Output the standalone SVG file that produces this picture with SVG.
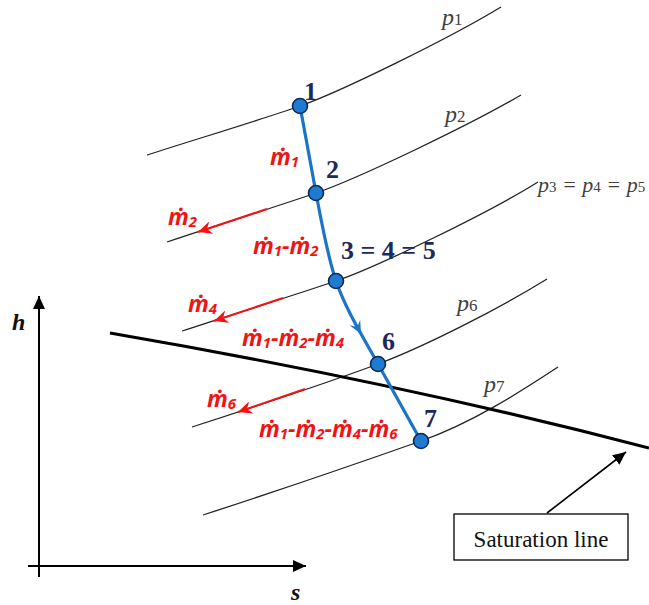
<svg xmlns="http://www.w3.org/2000/svg" width="649" height="605" viewBox="0 0 649 605">
<defs>
<style>
.iso{fill:none;stroke:#222;stroke-width:1.3}
.sat{fill:none;stroke:#000;stroke-width:3}
.axis{fill:none;stroke:#000;stroke-width:2}
.red{fill:none;stroke:#f01414;stroke-width:2}
.proc{fill:none;stroke:#1b74c6;stroke-width:3.2}
.pt{fill:#1f7ad2;stroke:#0d2a52;stroke-width:1.6}
.num{font-family:"Liberation Serif",serif;font-weight:bold;font-size:26px;fill:#1b2a5c}
.mlab{font-family:"Open Sans","Noto Sans",sans-serif;font-weight:bold;font-style:italic;font-size:23px;fill:#f01414}
.sub{font-size:15px}
.plab{font-family:"Liberation Serif",serif;font-style:italic;font-size:24px;fill:#404040}
.psub{font-style:normal;font-size:17px}
.ax{font-family:"Liberation Serif",serif;font-weight:bold;font-style:italic;font-size:24px;fill:#111}
</style>
<marker id="ra" markerWidth="15" markerHeight="13" refX="14" refY="6.5" orient="auto" markerUnits="userSpaceOnUse">
<path d="M14,6.5 L0,0 L4.5,6.5 L0,13 Z" fill="#f01414"/>
</marker>
<marker id="ka" markerWidth="14" markerHeight="12" refX="13" refY="6" orient="auto" markerUnits="userSpaceOnUse">
<path d="M13,6 L0,0 L0,12 Z" fill="#000"/>
</marker>
</defs>
<rect width="649" height="605" fill="#fff"/>

<g id="axes">
<path class="axis" d="M39,577 V296" marker-end="url(#ka)"/>
<path class="axis" d="M28,566 H306" marker-end="url(#ka)"/>
<text class="ax" x="12" y="330">h</text>
<text class="ax" x="291" y="600">s</text>
</g>

<g id="isobars">
<path class="iso" d="M147,155 C200,138 260,120 300,106 S450,38 501,7"/>
<path class="iso" d="M167,242 C215,226 275,207 316,193 S470,125 521,95"/>
<path class="iso" d="M182,331 C230,315 295,295 336,281 S490,212 538,182"/>
<path class="iso" d="M192,427 C260,405 330,382 378,364 S500,308 547,279"/>
<path class="iso" d="M203,515 C280,490 370,459 421,441 S520,392 558,367"/>
<text class="plab" x="442" y="25">p<tspan class="psub">1</tspan></text>
<text class="plab" x="445" y="122">p<tspan class="psub">2</tspan></text>
<text class="plab" x="538" y="192" style="font-size:22px">p<tspan class="psub" style="font-size:15px">3</tspan> = p<tspan class="psub" style="font-size:15px">4</tspan> = p<tspan class="psub" style="font-size:15px">5</tspan></text>
<text class="plab" x="457" y="311">p<tspan class="psub">6</tspan></text>
<text class="plab" x="484" y="392">p<tspan class="psub">7</tspan></text>
</g>

<g id="saturation">
<path class="sat" d="M110,333 Q400,383 649,448"/>
</g>

<g id="connectors">
<path class="red" d="M267,209 L198,232" marker-end="url(#ra)"/>
<path class="red" d="M283,298 L214,321" marker-end="url(#ra)"/>
<path class="red" d="M305,389 L238,412" marker-end="url(#ra)"/>
<path class="proc" d="M300,106 L316,193 C322,225 328,258 336,281 C346,310 362,335 378,364 L421,441"/>
<path d="M0,0 L-13,-6 L-8,0 L-13,6 Z" fill="#1b74c6" transform="translate(361,334) rotate(62)"/>
<path fill="none" stroke="#000" stroke-width="1.6" d="M547,513 L626,452" marker-end="url(#ka)"/>
</g>

<g id="state1"><circle class="pt" cx="300" cy="106" r="7.5"/><text class="num" x="304" y="100">1</text></g>
<g id="state2"><circle class="pt" cx="316" cy="193" r="7.5"/><text class="num" x="326" y="178">2</text></g>
<g id="state3"><circle class="pt" cx="336" cy="281" r="7.5"/><text class="num" x="341" y="259">3 = 4 = 5</text></g>
<g id="state6"><circle class="pt" cx="378" cy="364" r="7.5"/><text class="num" x="382" y="350">6</text></g>
<g id="state7"><circle class="pt" cx="421" cy="441" r="7.5"/><text class="num" x="424" y="427">7</text></g>

<g id="flows">
<text class="mlab" x="270" y="165">ṁ<tspan class="sub" dy="2">1</tspan></text>
<text class="mlab" x="168" y="225">ṁ<tspan class="sub" dy="2">2</tspan></text>
<text class="mlab" x="253" y="254">ṁ<tspan class="sub" dy="2">1</tspan><tspan dy="-2">-ṁ</tspan><tspan class="sub" dy="2">2</tspan></text>
<text class="mlab" x="188" y="312">ṁ<tspan class="sub" dy="2">4</tspan></text>
<text class="mlab" x="242" y="346">ṁ<tspan class="sub" dy="2">1</tspan><tspan dy="-2">-ṁ</tspan><tspan class="sub" dy="2">2</tspan><tspan dy="-2">-ṁ</tspan><tspan class="sub" dy="2">4</tspan></text>
<text class="mlab" x="207" y="407">ṁ<tspan class="sub" dy="2">6</tspan></text>
<text class="mlab" x="259" y="437">ṁ<tspan class="sub" dy="2">1</tspan><tspan dy="-2">-ṁ</tspan><tspan class="sub" dy="2">2</tspan><tspan dy="-2">-ṁ</tspan><tspan class="sub" dy="2">4</tspan><tspan dy="-2">-ṁ</tspan><tspan class="sub" dy="2">6</tspan></text>
</g>

<g id="satlabel">
<rect x="454" y="514" width="174" height="46" fill="#fff" stroke="#000" stroke-width="1.3"/>
<text x="541" y="547" text-anchor="middle" font-family="Liberation Serif, serif" font-size="23" fill="#111">Saturation line</text>
</g>
</svg>
